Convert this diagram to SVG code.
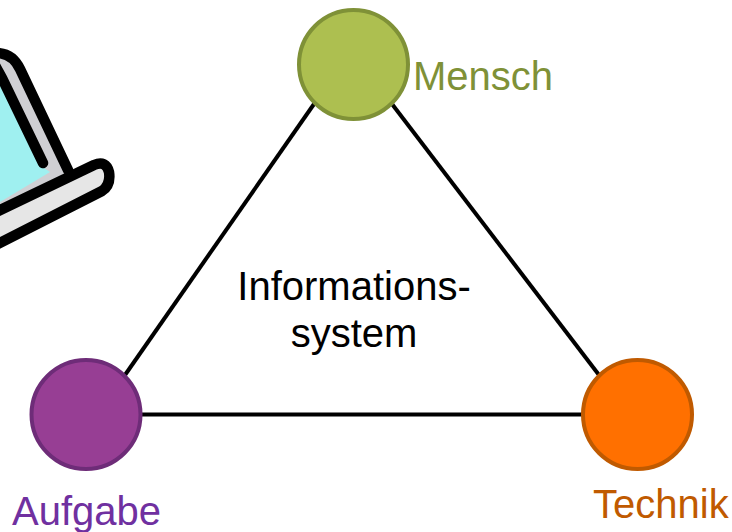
<svg xmlns="http://www.w3.org/2000/svg" width="732" height="532" viewBox="0 0 732 532">
<style>
text{font-family:"Liberation Sans",Arial,sans-serif;font-size:40px}
.edge{stroke:#000;stroke-width:4;fill:none}
.ol{stroke:#000;stroke-width:10.500;stroke-linecap:round;stroke-linejoin:round}
circle{stroke-width:4}
</style>
<rect width="732" height="532" fill="#fff"/>
<g id="laptop">
<path d="M-5 52 Q10 52 19 66 L70 176 L-5 214Z" fill="#cfcfd3"/>
<path d="M-5 72 L44 168 L50 172 L-5 205Z" fill="#9ff0f0"/>
<path class="ol" fill="none" d="M-6 53 Q12 52 20 69 L68 170"/>
<path class="ol" fill="none" d="M-8 60 L2 78 L43 163"/>
<path class="ol" fill="#e6e6e6" d="M-10 215 L94 165 Q106 160 109 172 Q111 185 102 191 L-10 248"/>
</g>
<g id="connectors">
<line class="edge" x1="314" y1="104" x2="125" y2="375"/>
<line class="edge" x1="392" y1="104" x2="599" y2="375"/>
<line class="edge" x1="142" y1="414.500" x2="582" y2="414.500"/>
</g>
<g id="mensch">
<circle cx="353.500" cy="64.500" r="54.500" fill="#adbf50" stroke="#7f9137"/>
<text x="413" y="90" fill="#7f9137">Mensch</text>
</g>
<g id="aufgabe">
<circle cx="86" cy="414.500" r="54.500" fill="#973e94" stroke="#6e2c78"/>
<text x="12" y="525" fill="#7030a0">Aufgabe</text>
</g>
<g id="technik">
<circle cx="637.500" cy="414.500" r="54.500" fill="#ff7000" stroke="#c05a00"/>
<text x="593" y="518" fill="#c05a00">Technik</text>
</g>
<g id="informationssystem">
<text x="354" y="300" text-anchor="middle" fill="#000">Informations-</text>
<text x="354" y="347" text-anchor="middle" fill="#000">system</text>
</g>
</svg>
